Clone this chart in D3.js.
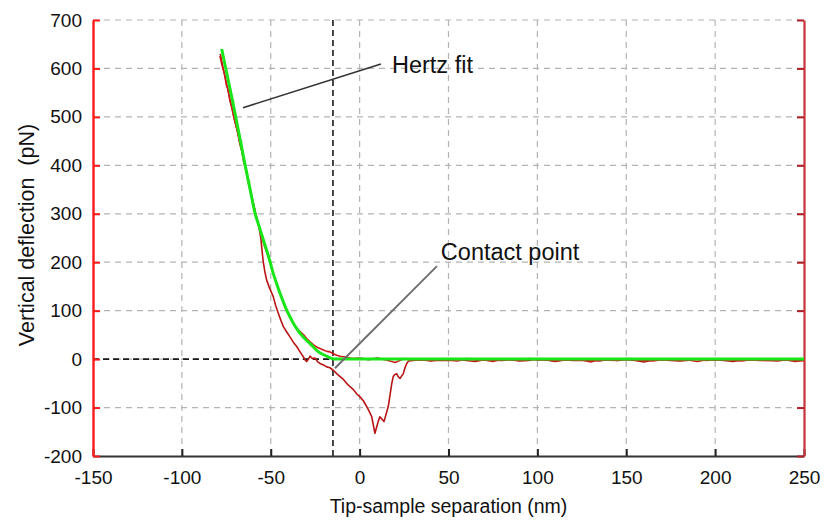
<!DOCTYPE html>
<html><head><meta charset="utf-8">
<script src="https://cdn.jsdelivr.net/npm/d3@7"></script>
<style>
body{margin:0;background:#fff}
svg{display:block}
text{font-family:"Liberation Sans", Arial, sans-serif;fill:#111}
</style>
</head><body>
<svg id="c" width="825" height="521"></svg>
<script>
// ---------- data ----------
const xTicks = [-150,-100,-50,0,50,100,150,200,250];
const yTicks = [-200,-100,0,100,200,300,400,500,600,700];
const xLabel = "Tip-sample separation (nm)";
const yLabel = "Vertical deflection  (pN)";
const contactX = -15;

// Hertz fit (green)
const fitX = [-77.6,-75.6,-73.6,-71.6,-69.7,-67.1,-64.5,-61.7,-58.9,-56.7,-54.5,-52.5,-50.6,-48.6,-46.7,-44.8,-42.9,-41.0,-39.1,-37.3,-35.4,-33.5,-30.5,-27.9,-25.5,-23.2,-20.8,-18.5,-15.7,-14,250];
const fitY = [640,605,570,535,500,451,402,352,302,276,250,227,204,177,156,136,118,101,87,74,63,53,41,32,23,15,10,6,1.5,0,0];

// approach curve (red)
const approachX = [-78.6,-77.8,-77.0,-76.1,-75.0,-74.0,-72.9,-71.8,-70.7,-69.7,-68.6,-67.4,-66.2,-65.1,-64.0,-62.9,-61.8,-60.6,-59.5,-58.4,-57.2,-56.0,-54.8,-53.6,-52.4,-51.2,-50.0,-48.7,-47.3,-45.9,-44.4,-42.9,-41.4,-39.8,-38.2,-36.6,-34.9,-33.2,-31.5,-29.9,-28.0,-26.1,-24.2,-22.3,-20.3,-18.5,-16.7,-14.8,-12.9,-11.0,-9.1,-7.3,-5.4,-3.5,
  0,5,10,15,20,25,30,35,40,45,50,55,60,65,70,75,80,85,90,95,100,105,110,115,120,125,130,135,140,145,150,155,160,165,170,175,180,185,190,195,200,205,210,215,220,225,230,235,240,245,250];
const approachY = [626,612,601,590,566,556,532,519,498,484,468,444,428,404,392,368,352,330,316,296,282,264,250,234,222,208,194,178,164,146,132,116,102,90,80,70,62,56,50,43,36,30,25,22,19,16,15,11,8,6,5,4,2,1,
  2,-1,2,-2,-7,1,-2,-1,-3,0,-2,-4,1,-2,-2,-5,0,-1,-3,1,-2,-1,-4,-2,0,-2,-6,-1,-2,-3,1,-2,-2,-4,-1,0,-3,-2,-5,-1,-2,0,-2,-4,-1,-2,-3,0,-2,-5,-3];

// retract curve (red, with adhesion dip)
const retractX = [-78.4,-77.3,-76.4,-75.4,-74.3,-73.3,-72.2,-71.1,-70.1,-69.0,-67.9,-66.7,-65.6,-64.4,-63.3,-62.2,-61.1,-59.9,-58.8,-57.6,-56.5,-55.6,-55.0,-54.2,-53.3,-52.3,-50.6,-48.6,-47.2,-45.7,-44.3,-42.9,-41.0,-39.2,-37.3,-35.4,-33.5,-31.7,-30.6,-29.8,-28.8,-27.9,-26.5,-25.1,-23.7,-22.3,-20.4,-18.5,-16.6,-14.8,-12.9,-11.0,-9.1,-7.3,-5.4,-3.5,-1.6,0.2,2.1,4.0,5.4,6.8,7.8,8.6,9.6,10.5,11.4,12.6,13.7,15.0,16.1,17.2,18.1,18.9,19.8,20.8,21.7,22.7,23.6,24.6,25.5,26.5,27.5,
  30,35,40,45,50,55,60,65,70,75,80,85,90,95,100,105,110,115,120,125,130,135,140,145,150,155,160,165,170,175,180,185,190,195,200,205,210,215,220,225,230,235,240,245,250];
const retractY = [630,610,594,578,560,542,524,506,490,474,456,438,418,400,382,362,344,324,306,288,270,250,228,200,180,163,146,129,110,94,80,67,56,46,35,26,15,5,-2,-5,0,6,1,2,-5,-9,-12,-16,-18,-23,-30,-36,-42,-50,-57,-63,-72,-78,-86,-98,-108,-119,-138,-153,-140,-128,-119,-124,-129,-112,-98,-72,-50,-36,-32,-30,-36,-40,-35,-30,-18,-9,-4,
  -3,-1,-4,-2,-3,0,-3,-5,-1,-2,-3,-1,-4,-3,0,-2,-5,-1,-3,-3,-2,-4,0,-3,-1,-3,-6,-2,-1,-3,-4,-2,0,-3,-1,-3,-5,-2,-1,-3,-3,-4,-1,-2,-3];

// annotations (anchors in data units)
const hertzNote = {text:"Hertz fit", from:[-65.6,519], to:[12,609], label:[18.2,591]};
const contactNote = {text:"Contact point", from:[-13.9,-19], to:[43.5,192], label:[45.7,204]};

// ---------- chart ----------
const svg = d3.select("#c");
const x = d3.scaleLinear().domain([-150,250]).range([93,804]);
const y = d3.scaleLinear().domain([-200,700]).range([456,20]);

// grid
const grid = svg.append("g").attr("stroke","#b4b4b4").attr("stroke-width",1.2).attr("stroke-dasharray","6,5");
grid.selectAll(".gh").data(yTicks.filter(v=>v>-200)).join("line")
  .attr("x1",x(-150)).attr("x2",x(250)).attr("y1",d=>y(d)).attr("y2",d=>y(d));
grid.selectAll(".gv").data(xTicks.filter(v=>v>-150 && v<250)).join("line")
  .attr("x1",d=>x(d)).attr("x2",d=>x(d)).attr("y1",y(700)).attr("y2",y(-200));

// contact lines
const cl = svg.append("g").attr("stroke","#1a1a1a").attr("stroke-width",1.6).attr("stroke-dasharray","6,4");
cl.append("line").attr("x1",x(-150)).attr("x2",x(contactX)).attr("y1",y(0)).attr("y2",y(0));
cl.append("line").attr("x1",x(contactX)).attr("x2",x(contactX)).attr("y1",y(700)).attr("y2",y(-200));

// axes
const fmt = d => String(d);
const gB = svg.append("g").attr("transform",`translate(0,${y(-200)})`)
  .call(d3.axisBottom(x).tickValues(xTicks).tickFormat(fmt).tickSizeInner(-7).tickSizeOuter(0).tickPadding(15));
gB.select(".domain").attr("stroke","#333").attr("stroke-width",2.2);
gB.selectAll(".tick line").attr("stroke","#222").attr("stroke-width",2);
gB.selectAll(".tick text").attr("font-size",19).attr("fill","#1a1a1a");

const gL = svg.append("g").attr("transform",`translate(${x(-150)},0)`)
  .call(d3.axisLeft(y).tickValues(yTicks).tickFormat(fmt).tickSizeInner(-7).tickSizeOuter(0).tickPadding(11));
gL.select(".domain").attr("stroke","#ff1a1a").attr("stroke-width",2.4);
gL.selectAll(".tick line").attr("stroke","#ff1a1a").attr("stroke-width",2);
gL.selectAll(".tick text").attr("font-size",19).attr("fill","#1a1a1a");

const gR = svg.append("g").attr("transform",`translate(${x(250)},0)`)
  .call(d3.axisRight(y).tickValues(yTicks).tickFormat("").tickSizeInner(-7).tickSizeOuter(0));
gR.select(".domain").attr("stroke","#c8323a").attr("stroke-width",2.2);
gR.selectAll(".tick line").attr("stroke","#b01e26").attr("stroke-width",2);

// axis titles
svg.append("text").attr("x",(x(-150)+x(250))/2).attr("y",513).attr("text-anchor","middle")
  .attr("font-size",19.5).attr("fill","#1a1a1a").text(xLabel);
svg.append("text").attr("transform",`translate(34,${(y(700)+y(-200))/2 - 3}) rotate(-90)`).attr("text-anchor","middle")
  .style("white-space","pre").attr("font-size",21.5).attr("fill","#1a1a1a").text(yLabel);

// curves
const line = d3.line().x(d=>x(d[0])).y(d=>y(d[1]));
const zip = (a,b)=>a.map((v,i)=>[v,b[i]]);
svg.append("path").datum(zip(retractX,retractY)).attr("d",line)
  .attr("fill","none").attr("stroke","#b81515").attr("stroke-width",1.6).attr("stroke-linejoin","round");
svg.append("path").datum(zip(approachX,approachY)).attr("d",line)
  .attr("fill","none").attr("stroke","#cc1b1b").attr("stroke-width",1.6).attr("stroke-linejoin","round");
svg.append("path").datum(zip(fitX,fitY)).attr("d",d3.line().x(d=>x(d[0])).y(d=>y(d[1])).curve(d3.curveMonotoneX))
  .attr("fill","none").attr("stroke","#19e619").attr("stroke-width",3).attr("stroke-linejoin","round");

// annotations
function note(n, color, w){
  svg.append("line").attr("x1",x(n.from[0])).attr("y1",y(n.from[1])).attr("x2",x(n.to[0])).attr("y2",y(n.to[1]))
    .attr("stroke",color).attr("stroke-width",w);
  svg.append("text").attr("x",x(n.label[0])).attr("y",y(n.label[1])).attr("font-size",23.5).attr("fill","#111").text(n.text);
}
note(hertzNote,"#333",1.6);
note(contactNote,"#707070",2);
</script>
</body></html>
